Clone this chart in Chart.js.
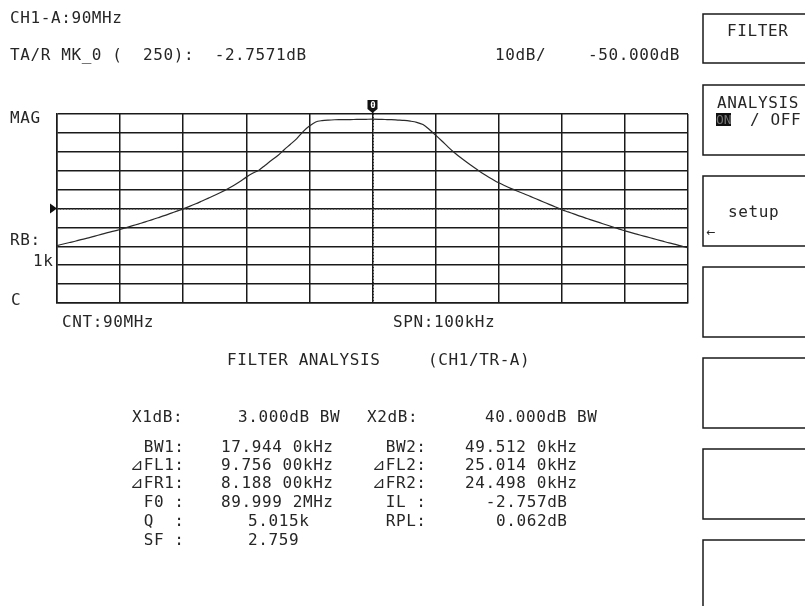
<!DOCTYPE html>
<html>
<head>
<meta charset="utf-8">
<script src="https://cdn.jsdelivr.net/npm/chart.js@4/dist/chart.umd.min.js"></script>
<style>
html,body{margin:0;padding:0;background:#fff;}
#wrap{width:805px;height:606px;position:relative;}
</style>
</head>
<body>
<div id="wrap"><canvas id="c" width="805" height="606"></canvas></div>
<script>
// ---- data (frequency offset from 90 MHz centre, kHz; magnitude dB) ----
const freqKHz = [
 -50,-49,-48,-47,-46,-45,-44,-43,-42,-41,
 -40,-39,-38,-37,-36,-35,-34,-33,-32,-31,
 -30,-29,-28,-27,-26,-25,-24,-23,-22,-21,
 -20,-19,-18,-17,-16,-15,-14,-13,-12,-11,
 -10,-9,-8,-7,-6,-5,-4,-3,-2,-1,
 0,
 1,2,3,4,5,6,7,8,9,10,
 11,12,13,14,15,16,17,18,19,20,
 21,22,23,24,25,26,27,28,29,30,
 31,32,33,34,35,36,37,38,39,40,
 41,42,43,44,45,46,47,48,49,50
];
const magDB = [
 -69.6,-68.8,-68.0,-67.2,-66.3,-65.5,-64.6,-63.7,-62.8,-62.0,
 -61.1,-60.1,-59.1,-58.1,-57.1,-56.0,-54.9,-53.8,-52.6,-51.4,
 -50.2,-48.9,-47.5,-46.0,-44.5,-43.0,-41.4,-39.7,-37.8,-35.7,
 -33.4,-31.4,-29.7,-27.1,-24.5,-22.0,-18.9,-16.0,-13.0,-9.3,
 -6.4,-4.2,-3.5,-3.2,-3.05,-3.0,-2.95,-2.9,-2.85,-2.8,
 -2.757,
 -2.8,-2.9,-3.0,-3.2,-3.4,-3.8,-4.4,-5.6,-8.2,-11.2,
 -14.3,-17.5,-20.5,-23.2,-25.7,-28.1,-30.4,-32.5,-34.5,-36.4,
 -38.0,-39.5,-40.9,-42.2,-43.6,-45.0,-46.4,-47.8,-49.2,-50.6,
 -51.8,-53.0,-54.2,-55.3,-56.4,-57.5,-58.6,-59.7,-60.8,-61.8,
 -62.8,-63.7,-64.6,-65.5,-66.4,-67.3,-68.2,-69.0,-69.9,-70.8
];
const yRange = [-100, 0];          // 10 dB/div, ref -50 dB at centre
const xRange = [-50, 50];          // span 100 kHz
const refLevelDB = -50;
const markerKHz = 0;

// ---- texts ----
const headerTexts = ["CH1-A:90MHz", "TA/R MK_0 (  250):  -2.7571dB", "10dB/", "-50.000dB"];
const axisTexts = ["MAG", "RB:", "1k", "C", "CNT:90MHz", "SPN:100kHz"];
const analysisTitle = ["FILTER ANALYSIS", "(CH1/TR-A)"];
const xdbRow = ["X1dB:", "3.000dB BW", "X2dB:", "40.000dB BW"];
const leftLabels  = ["BW1:", "\u22BFFL1:", "\u22BFFR1:", "F0 :", "Q  :", "SF :"];
const leftValues  = ["17.944 0kHz", "9.756 00kHz", "8.188 00kHz", "89.999 2MHz", "5.015k", "2.759"];
const rightLabels = ["BW2:", "\u22BFFL2:", "\u22BFFR2:", "IL :", "RPL:"];
const rightValues = ["49.512 0kHz", "25.014 0kHz", "24.498 0kHz", "-2.757dB", "0.062dB"];
const softkeys = ["FILTER", "ANALYSIS", "setup", "", "", "", ""];

const FONT = '16px "DejaVu Sans Mono"';
const SPACING = 0.6;
const INK = '#262626';

function txt(ctx, s, x, y, align) {
  ctx.save();
  ctx.font = FONT;
  ctx.fillStyle = INK;
  ctx.textBaseline = 'alphabetic';
  ctx.letterSpacing = SPACING + 'px';
  ctx.textAlign = 'left';
  if (align === 'right') {
    const w = ctx.measureText(s).width;
    ctx.fillText(s, x - w + SPACING, y);
  } else {
    ctx.fillText(s, x, y);
  }
  ctx.restore();
}

const bg = {
  id: 'bg',
  beforeDraw(chart) {
    const c = chart.ctx;
    c.save(); c.fillStyle = '#fff'; c.fillRect(0, 0, chart.width, chart.height); c.restore();
  }
};

const overlay = {
  id: 'overlay',
  afterDraw(chart) {
    const c = chart.ctx;
    const xs = chart.scales.x, ys = chart.scales.y, a = chart.chartArea;
    // reference dotted line + arrow
    const yr = ys.getPixelForValue(refLevelDB);
    c.save();
    c.strokeStyle = '#333'; c.lineWidth = 1; c.setLineDash([1, 2]);
    c.beginPath(); c.moveTo(a.left, yr + 0.5); c.lineTo(a.right, yr + 0.5); c.stroke();
    const xm = xs.getPixelForValue(markerKHz);
    c.beginPath(); c.moveTo(Math.round(xm) + 0.5, a.top); c.lineTo(Math.round(xm) + 0.5, a.bottom); c.stroke();
    c.setLineDash([]);
    c.fillStyle = '#111';
    c.beginPath(); c.moveTo(a.left - 7, yr - 5); c.lineTo(a.left, yr); c.lineTo(a.left - 7, yr + 5); c.closePath(); c.fill();
    // marker symbol
    c.beginPath();
    c.moveTo(xm - 5, a.top - 14); c.lineTo(xm + 5, a.top - 14); c.lineTo(xm + 5, a.top - 5);
    c.lineTo(xm, a.top - 1); c.lineTo(xm - 5, a.top - 5); c.closePath(); c.fill();
    c.fillRect(xm - 0.5, a.top - 2, 1.5, 3);
    c.fillStyle = '#fff'; c.font = 'bold 9px "DejaVu Sans Mono"'; c.textAlign = 'center';
    c.fillText('0', xm + 0.5, a.top - 6);
    c.restore();

    // header
    txt(c, headerTexts[0], 10, 23);
    txt(c, headerTexts[1], 10, 60);
    txt(c, headerTexts[2], 495, 60);
    txt(c, headerTexts[3], 588, 60);
    // axis annotations
    txt(c, axisTexts[0], 10, 123);
    txt(c, axisTexts[1], 10, 245);
    txt(c, axisTexts[2], 33, 266);
    txt(c, axisTexts[3], 11, 305);
    txt(c, axisTexts[4], 62, 327);
    txt(c, axisTexts[5], 393, 327);
    // analysis block
    txt(c, analysisTitle[0], 227, 365);
    txt(c, analysisTitle[1], 428, 365);
    txt(c, xdbRow[0], 132, 422);
    txt(c, xdbRow[1], 238, 422);
    txt(c, xdbRow[2], 367, 422);
    txt(c, xdbRow[3], 485, 422);
    const rowY = [452, 470, 488, 507, 526, 545];
    leftLabels.forEach((s, i) => txt(c, s, 184, rowY[i], 'right'));
    leftValues.forEach((s, i) => {
      if (i < 4) txt(c, s, 333, rowY[i], 'right');
      else txt(c, s, 248, rowY[i]);
    });
    rightLabels.forEach((s, i) => txt(c, s, 426, rowY[i], 'right'));
    rightValues.forEach((s, i) => txt(c, s, i < 3 ? 577 : 567, rowY[i], 'right'));

    // soft keys
    c.save();
    c.strokeStyle = '#1a1a1a'; c.lineWidth = 1.5;
    const boxTops = [14, 85, 176, 267, 358, 449, 540];
    const boxH = [49, 70, 70, 70, 70, 70, 70];
    boxTops.forEach((t, i) => {
      c.beginPath();
      c.moveTo(810, t); c.lineTo(703, t); c.lineTo(703, t + boxH[i]); c.lineTo(810, t + boxH[i]);
      c.stroke();
    });
    c.restore();
    txt(c, softkeys[0], 727, 36);
    txt(c, softkeys[1], 717, 108);
    c.save(); c.fillStyle = '#111'; c.fillRect(716, 113, 15, 13); c.restore();
    c.save(); c.font = '13px "DejaVu Sans Mono"'; c.fillStyle = '#777'; c.fillText('ON', 716, 124); c.restore();
    txt(c, '/ OFF', 750, 125);
    txt(c, softkeys[2], 728, 217);
    c.save(); c.font = '11px "DejaVu Sans"'; c.fillStyle = INK; c.fillText('\u2190', 706, 236); c.restore();
  }
};

const points = freqKHz.map((f, i) => ({ x: f, y: magDB[i] }));
const gridOpt = { color: '#1a1a1a', lineWidth: 1.5, drawTicks: false };
new Chart(document.getElementById('c'), {
  type: 'line',
  data: { datasets: [{ data: points, borderColor: '#2a2a2a', borderWidth: 1.2, pointRadius: 0, tension: 0.3, fill: false }] },
  options: {
    responsive: false, animation: false,
    layout: { padding: { left: 57, right: 117, top: 114, bottom: 303 } },
    plugins: { legend: { display: false }, tooltip: { enabled: false } },
    scales: {
      x: { type: 'linear', min: xRange[0], max: xRange[1], ticks: { display: false, stepSize: 10 }, grid: gridOpt, border: { color: '#1a1a1a', width: 1.5 } },
      y: { min: yRange[0], max: yRange[1], ticks: { display: false, stepSize: 10 }, grid: gridOpt, border: { color: '#1a1a1a', width: 1.5 } }
    }
  },
  plugins: [bg, overlay]
});
</script>
</body>
</html>
